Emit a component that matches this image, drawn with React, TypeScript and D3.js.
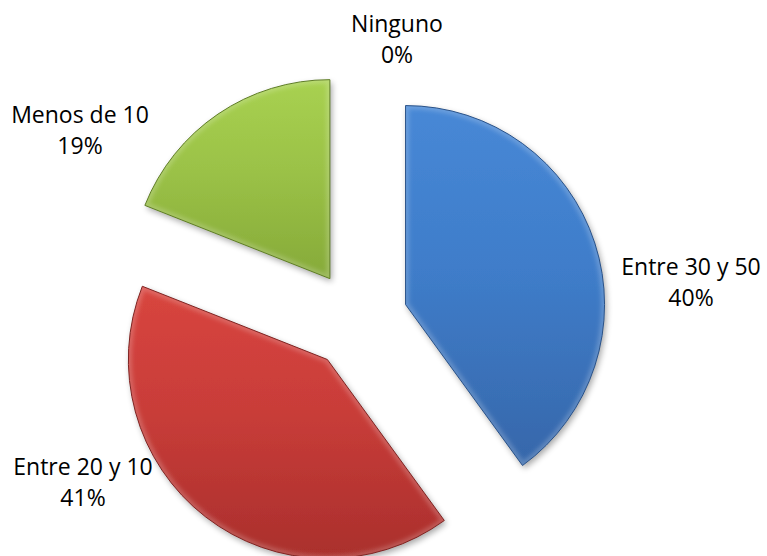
import React, { useEffect } from "react";
import * as d3 from "d3";

const categories = ["Entre 30 y 50", "Entre 20 y 10", "Menos de 10", "Ninguno"];
const values = [40, 41, 19, 0];
const percentLabels = ["40%", "41%", "19%", "0%"];

const W = 767;
const H = 556;
const CX = 358;
const CY = 320;
const R = 199;
const EXPLODE = 50;

const palette = [
  { top: "#4788d6", mid: "#3f7dca", bottom: "#3667aa", edge: "#2a5288" },
  { top: "#d8453f", mid: "#c93d39", bottom: "#aa2f2c", edge: "#7e2422" },
  { top: "#a8d151", mid: "#9bc247", bottom: "#86aa39", edge: "#5f7d27" },
  { top: "#999", mid: "#888", bottom: "#777", edge: "#555" },
];

// label layout (center x, first baseline)
const labelLayout = [
  { x: 691, y: 275 },
  { x: 83, y: 475 },
  { x: 80, y: 123 },
  { x: 397, y: 32 },
];

export default function App() {
  useEffect(() => {
    document.body.style.margin = "0";
  }, []);

  const pie = d3
    .pie<number>()
    .sort(null)
    .value((d) => d);
  const arcs = pie(values);
  const arcGen = d3.arc<d3.PieArcDatum<number>>().innerRadius(0).outerRadius(R);

  return (
    <svg width={W} height={H} style={{ position: "absolute", left: 0, top: 0, background: "#fff" }}>
      <defs>
        <filter id="shadow" x="-20%" y="-20%" width="140%" height="140%">
          <feGaussianBlur in="SourceAlpha" stdDeviation="3" />
          <feOffset dx="2" dy="3" result="off" />
          <feComponentTransfer>
            <feFuncA type="linear" slope="0.35" />
          </feComponentTransfer>
          <feMerge>
            <feMergeNode />
            <feMergeNode in="SourceGraphic" />
          </feMerge>
        </filter>
        <filter id="soft" x="-10%" y="-10%" width="120%" height="120%">
          <feGaussianBlur stdDeviation="2" />
        </filter>
        {palette.map((p, i) => (
          <linearGradient key={i} id={`g${i}`} x1="0" y1="0" x2="0" y2="1">
            <stop offset="0%" stopColor={p.top} />
            <stop offset="45%" stopColor={p.mid} />
            <stop offset="100%" stopColor={p.bottom} />
          </linearGradient>
        ))}
        {arcs.map((a, i) => (
          <clipPath key={i} id={`c${i}`}>
            <path d={arcGen(a) || ""} />
          </clipPath>
        ))}
      </defs>
      {arcs.map((a, i) => {
        if (a.endAngle - a.startAngle <= 0) return null;
        const mid = (a.startAngle + a.endAngle) / 2;
        const tx = CX + EXPLODE * Math.sin(mid);
        const ty = CY - EXPLODE * Math.cos(mid);
        const d = arcGen(a) || "";
        const p = palette[i];
        return (
          <g key={i} transform={`translate(${tx},${ty})`}>
            <path d={d} fill={`url(#g${i})`} filter="url(#shadow)" />
            <g clipPath={`url(#c${i})`}>
              <path d={d} fill="none" stroke="#ffffff" strokeOpacity={0.2} strokeWidth={7} filter="url(#soft)" />
            </g>
            <path d={d} fill="none" stroke={p.edge} strokeWidth={1} strokeLinejoin="round" />
          </g>
        );
      })}
      {categories.map((c, i) => (
        <text
          key={c}
          x={labelLayout[i].x}
          y={labelLayout[i].y}
          textAnchor="middle"
          fontFamily="'Open Sans', sans-serif"
          fontSize={23}
          fill="#000"
        >
          <tspan x={labelLayout[i].x}>{c}</tspan>
          <tspan x={labelLayout[i].x} dy={30.5}>
            {percentLabels[i]}
          </tspan>
        </text>
      ))}
    </svg>
  );
}
